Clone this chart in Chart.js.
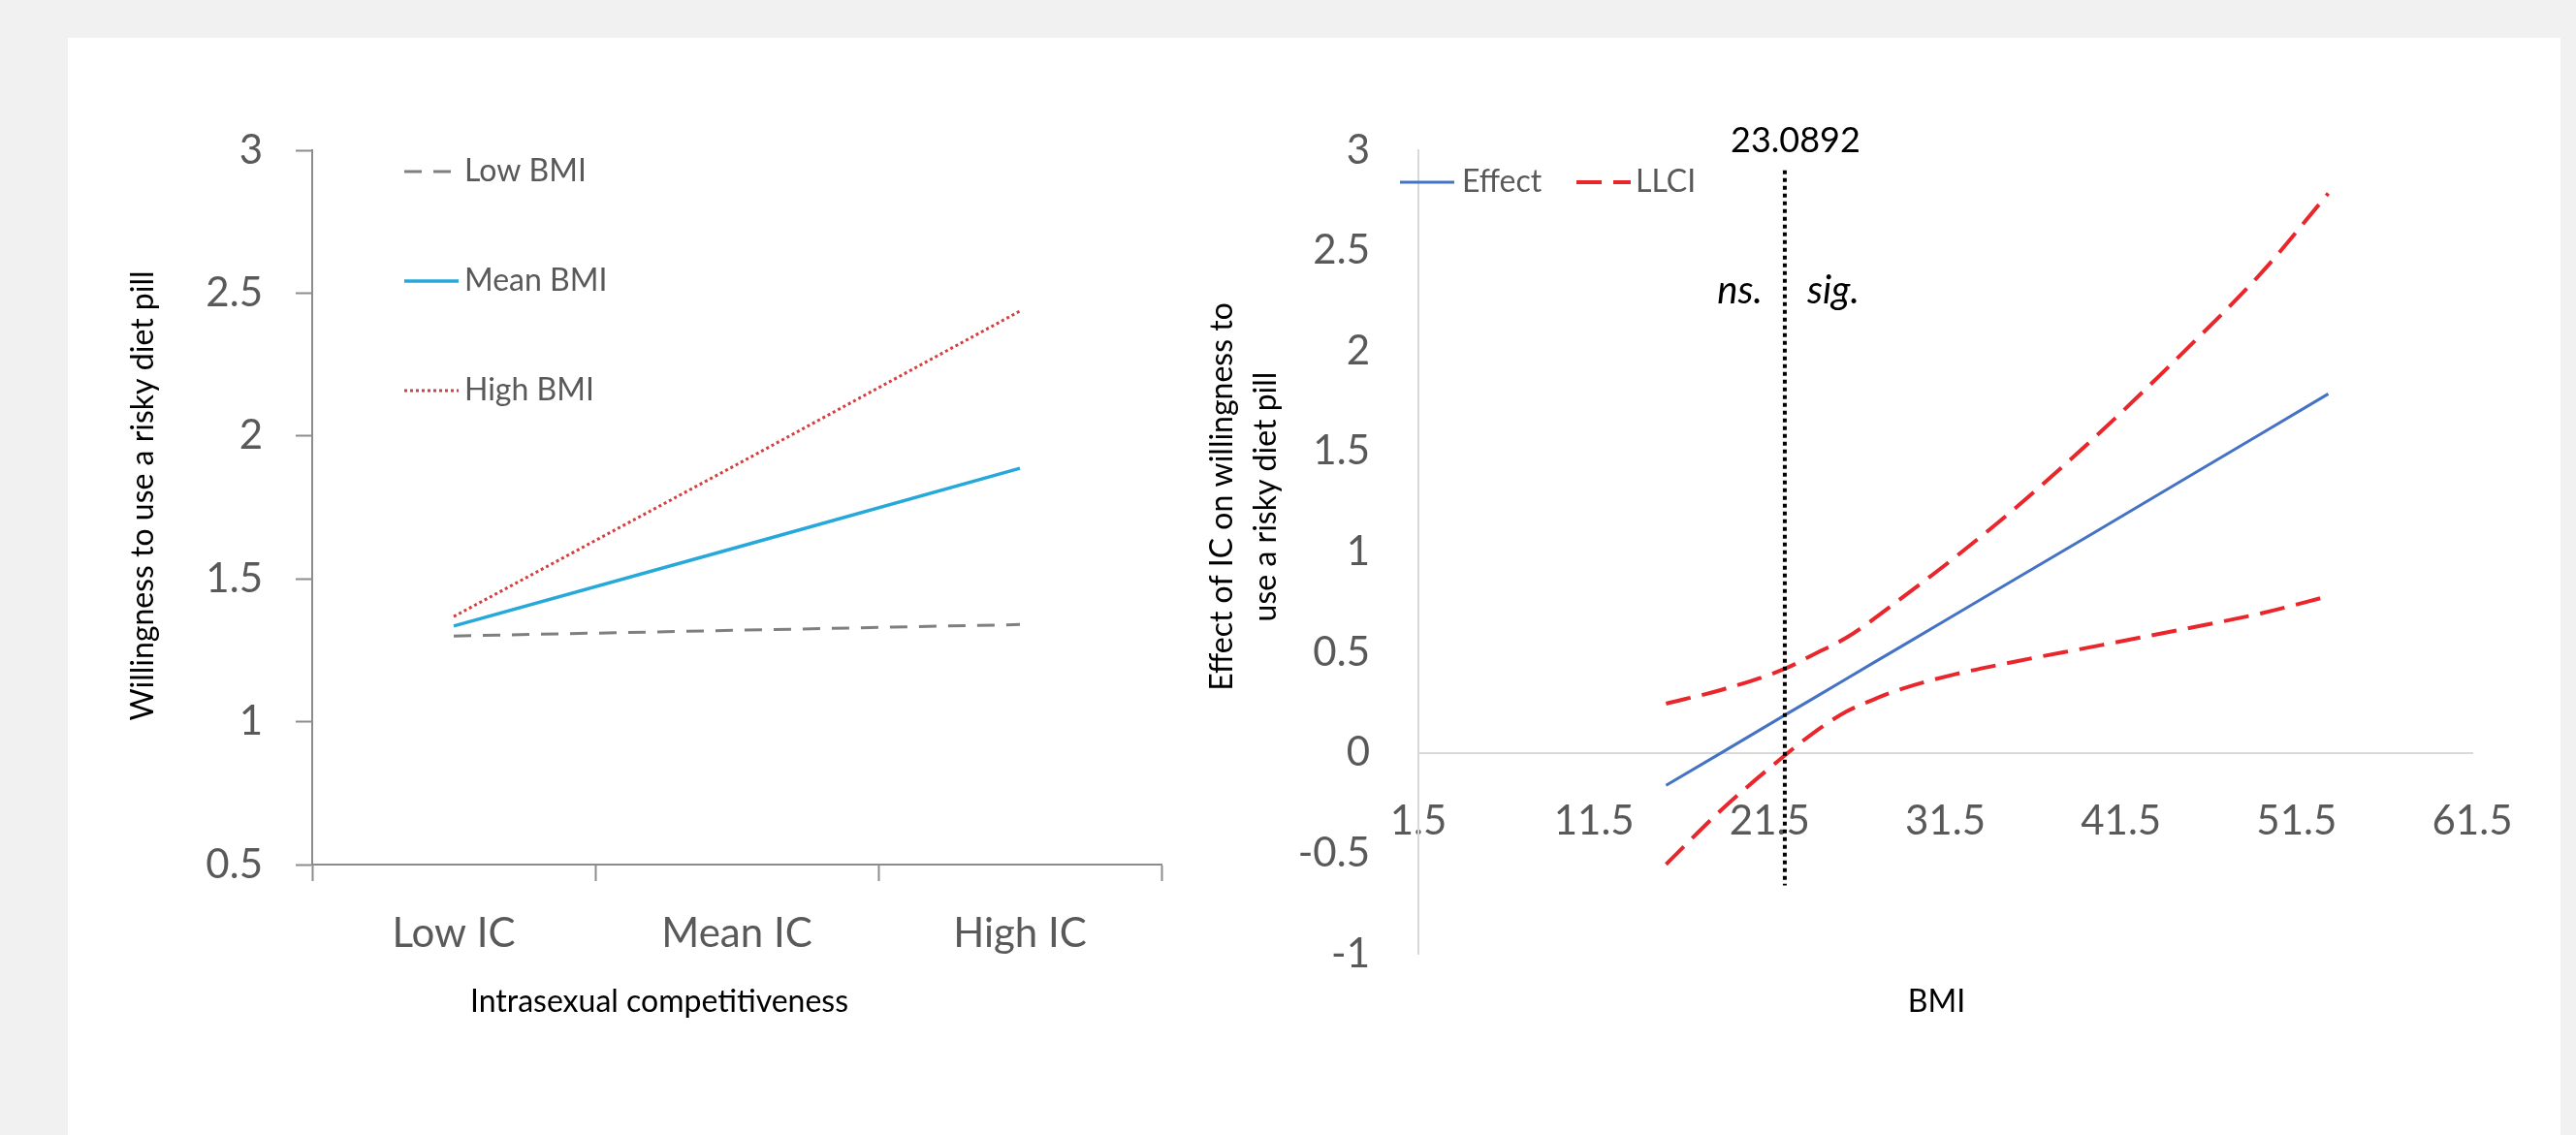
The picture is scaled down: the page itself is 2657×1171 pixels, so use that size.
<!DOCTYPE html>
<html>
<head>
<meta charset="utf-8">
<script src="https://cdn.jsdelivr.net/npm/chart.js@4.4.1/dist/chart.umd.min.js"></script>
<style>
  html, body { margin: 0; padding: 0; background: #f1f1f1; }
  body { width: 2657px; height: 1171px; position: relative; overflow: hidden; }
  #panel { position: absolute; left: 70px; top: 39px; width: 2571px; height: 1132px; background: #fff; }
  #left { position: absolute; left: 0; top: 0; }
  #right { position: absolute; left: 1150px; top: 0; }
</style>
</head>
<body>
<div id="panel">
  <canvas id="left" width="1150" height="1132"></canvas>
  <canvas id="right" width="1421" height="1132"></canvas>
</div>
<script>
// left panel: simple slopes
const icLabels = ['Low IC', 'Mean IC', 'High IC'];
const lowBmi = [1.30, 1.32, 1.34];
const meanBmi = [1.335, 1.61, 1.887];
const highBmi = [1.368, 1.90, 2.437];

// right panel: Johnson-Neyman plot
const bmiPoints = [15.6, 18.8, 22.4, 24.0, 25.9, 27.4, 29.0, 32.0, 35.5, 40.0, 45.0, 49.5, 53.3];
const effect = [-0.162, 0.003, 0.19, 0.272, 0.37, 0.448, 0.53, 0.685, 0.866, 1.098, 1.357, 1.59, 1.787];
const llci = [-0.555, -0.28, -0.01, 0.10, 0.207, 0.265, 0.318, 0.39, 0.455, 0.53, 0.615, 0.695, 0.78];
const ulci = [0.245, 0.315, 0.42, 0.49, 0.575, 0.665, 0.77, 0.97, 1.22, 1.57, 1.99, 2.39, 2.785];
const jnLabel = '23.0892';
const jnLineX = 22.36;
const jnLineY = [2.9, -0.66];

const TICK_GREY = '#595959';
const FONT = 'Lato';

function toXY(xs, ys) {
  return xs.map((x, i) => ({ x: x, y: ys[i] }));
}

function drawText(ctx, text, x, y, opts) {
  ctx.save();
  ctx.font = (opts.style || '') + ' ' + opts.size + 'px ' + FONT;
  ctx.fillStyle = opts.color || '#000';
  ctx.textAlign = opts.align || 'center';
  ctx.textBaseline = opts.baseline || 'middle';
  ctx.translate(x, y);
  if (opts.rotate) ctx.rotate(opts.rotate);
  ctx.fillText(text, 0, 0);
  ctx.restore();
}

// legend drawn from the datasets, at spots like the excel chart
function drawLegend(chart, items) {
  const ctx = chart.ctx;
  const ca = chart.chartArea;
  items.forEach(it => {
    const ds = chart.data.datasets[it.index];
    const y = ca.top + it.dy;
    ctx.save();
    ctx.strokeStyle = ds.borderColor;
    ctx.lineWidth = ds.borderWidth;
    ctx.setLineDash(ds.borderDash || []);
    ctx.beginPath();
    ctx.moveTo(ca.left + it.x0, y);
    ctx.lineTo(ca.left + it.x1, y);
    ctx.stroke();
    ctx.restore();
    drawText(ctx, ds.label, ca.left + it.tx, y, { size: 32, color: TICK_GREY, align: 'left' });
  });
}

const leftExtras = {
  id: 'leftExtras',
  afterDraw(chart) {
    const ctx = chart.ctx;
    const ca = chart.chartArea;
    drawLegend(chart, [
      { index: 0, dy: 22, x0: 95, x1: 151, tx: 157 },
      { index: 1, dy: 135, x0: 95, x1: 151, tx: 157 },
      { index: 2, dy: 248, x0: 95, x1: 151, tx: 157 }
    ]);
    drawText(ctx, 'Willingness to use a risky diet pill', ca.left - 174, (ca.top + ca.bottom) / 2 - 12,
      { size: 32, rotate: -Math.PI / 2 });
    drawText(ctx, 'Intrasexual competitiveness', (ca.left + ca.right) / 2 - 80, ca.bottom + 142, { size: 32 });
  }
};

const rightExtras = {
  id: 'rightExtras',
  afterDraw(chart) {
    const ctx = chart.ctx;
    const ca = chart.chartArea;
    drawLegend(chart, [
      { index: 0, dy: 33, x0: -19, x1: 37, tx: 45 },
      { index: 1, dy: 33, x0: 163, x1: 219, tx: 224 }
    ]);
    const jx = chart.scales.x.getPixelForValue(jnLineX);
    drawText(ctx, jnLabel, jx + 11, ca.top - 10, { size: 36 });
    drawText(ctx, 'ns.', jx - 23, ca.top + 158, { size: 40, style: 'italic', align: 'right', baseline: 'alphabetic' });
    drawText(ctx, 'sig.', jx + 23, ca.top + 158, { size: 40, style: 'italic', align: 'left', baseline: 'alphabetic' });
    const cy = (ca.top + ca.bottom) / 2 - 57;
    drawText(ctx, 'Effect of IC on willingness to', ca.left - 202, cy, { size: 32, rotate: -Math.PI / 2 });
    drawText(ctx, 'use a risky diet pill', ca.left - 157, cy, { size: 32, rotate: -Math.PI / 2 });
    drawText(ctx, 'BMI', (ca.left + ca.right) / 2 - 9, ca.bottom + 50, { size: 32 });
  }
};

new Chart(document.getElementById('left'), {
  type: 'line',
  data: {
    labels: icLabels,
    datasets: [
      { label: 'Low BMI', data: lowBmi, borderColor: '#7f7f7f', borderWidth: 3, borderDash: [18, 12] },
      { label: 'Mean BMI', data: meanBmi, borderColor: '#26a8da', borderWidth: 3.5 },
      { label: 'High BMI', data: highBmi, borderColor: '#d43f3f', borderWidth: 3, borderDash: [3, 3] }
    ]
  },
  options: {
    responsive: false,
    animation: false,
    devicePixelRatio: 1,
    layout: { padding: { top: 116, right: 22, left: 0, bottom: 0 } },
    elements: { point: { radius: 0 }, line: { tension: 0 } },
    plugins: { legend: { display: false }, tooltip: { enabled: false } },
    scales: {
      x: {
        offset: true,
        grid: { offset: true, drawOnChartArea: false, tickLength: 17, tickColor: '#8c8c8c', tickWidth: 2 },
        border: { color: '#8c8c8c', width: 2 },
        ticks: { color: TICK_GREY, font: { family: FONT, size: 42 }, padding: 29 },
        afterFit: s => { s.height = 279; }
      },
      y: {
        min: 0.5,
        max: 3,
        grid: { drawOnChartArea: false, tickLength: 17, tickColor: '#8c8c8c', tickWidth: 2 },
        border: { color: '#8c8c8c', width: 2 },
        ticks: { stepSize: 0.5, color: TICK_GREY, font: { family: FONT, size: 42 }, padding: 34,
          callback: v => String(v) },
        afterFit: s => { s.width = 252; }
      }
    }
  },
  plugins: [leftExtras]
});

new Chart(document.getElementById('right'), {
  type: 'line',
  data: {
    datasets: [
      { label: 'Effect', data: toXY(bmiPoints, effect), borderColor: '#4472c4', borderWidth: 3 },
      { label: 'LLCI', data: toXY(bmiPoints, llci), borderColor: '#e8262b', borderWidth: 4, borderDash: [26, 12],
        cubicInterpolationMode: 'monotone' },
      { label: 'ULCI', data: toXY(bmiPoints, ulci), borderColor: '#e8262b', borderWidth: 4, borderDash: [26, 12],
        cubicInterpolationMode: 'monotone' },
      { label: jnLabel, data: toXY([jnLineX, jnLineX], jnLineY), borderColor: '#000', borderWidth: 4,
        borderDash: [4, 4], order: -1 }
    ]
  },
  options: {
    responsive: false,
    animation: false,
    devicePixelRatio: 1,
    layout: { padding: { top: 116, right: 91, left: 0, bottom: 187 } },
    elements: { point: { radius: 0 }, line: { tension: 0 } },
    plugins: { legend: { display: false }, tooltip: { enabled: false } },
    scales: {
      x: {
        type: 'linear',
        min: 1.5,
        max: 61.5,
        position: { y: 0 },
        grid: { drawOnChartArea: false, drawTicks: false },
        border: { color: '#d9d9d9', width: 2 },
        ticks: { stepSize: 10, color: TICK_GREY, font: { family: FONT, size: 42 }, padding: 46,
          callback: v => String(v) }
      },
      y: {
        min: -1,
        max: 3,
        grid: { drawOnChartArea: false, drawTicks: false },
        border: { color: '#d9d9d9', width: 2 },
        ticks: { stepSize: 0.5, color: TICK_GREY, font: { family: FONT, size: 42 }, padding: 50,
          callback: v => String(v) },
        afterFit: s => { s.width = 243; }
      }
    }
  },
  plugins: [rightExtras]
});
</script>
</body>
</html>
